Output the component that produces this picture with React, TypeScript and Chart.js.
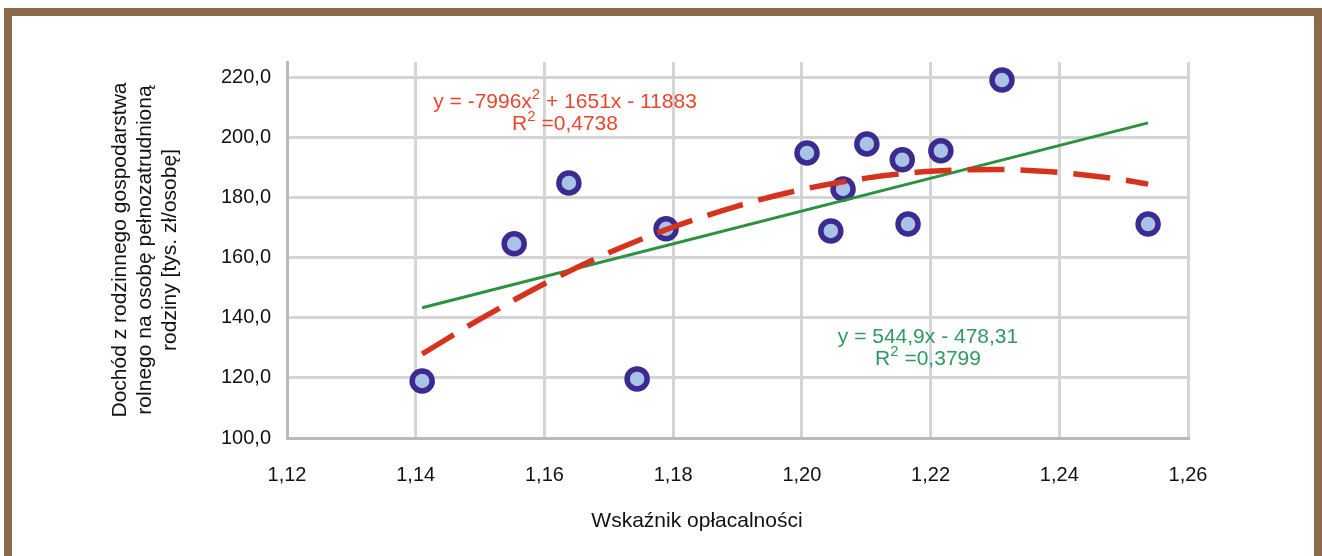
import { useEffect, useRef } from 'react';
import { Chart, registerables } from 'chart.js';

Chart.register(...registerables);

// ---- data ----
const X_VALUES = [1.141, 1.1553, 1.1638, 1.1744, 1.1789, 1.2008, 1.2045, 1.2064, 1.2101, 1.2156, 1.2165, 1.2216, 1.2311, 1.2538];
const Y_VALUES = [119.0, 164.7, 185.0, 119.7, 169.7, 195.0, 169.0, 183.0, 198.0, 192.7, 171.3, 195.7, 219.3, 171.3];

// linear trend line (end points)
const LIN_X = [1.141, 1.2538];
const LIN_Y = [143.4, 205.0];

// polynomial trend curve
const QUAD_X = [1.141, 1.15, 1.16, 1.17, 1.18, 1.19, 1.2, 1.21, 1.22, 1.23, 1.24, 1.25, 1.2538];
const QUAD_Y = [128.0, 139.6, 151.4, 161.7, 170.3, 177.3, 182.8, 186.6, 188.9, 189.5, 188.5, 186.0, 184.6];

const X_MIN = 1.12;
const X_MAX = 1.26;
const X_STEP = 0.02;
const Y_MIN = 100;
const Y_MAX = 225.3;
const Y_STEP = 20;

const Y_TITLE = ['Dochód z rodzinnego gospodarstwa', 'rolnego na osobę pełnozatrudnioną', 'rodziny [tys. zł/osobę]'];
const X_TITLE = 'Wskaźnik opłacalności';

type Part = { t: string; sup?: boolean };
const EQ_POLY_1: Part[] = [{ t: 'y = -7996x' }, { t: '2', sup: true }, { t: ' + 1651x - 11883' }];
const EQ_POLY_2: Part[] = [{ t: 'R' }, { t: '2', sup: true }, { t: ' =0,4738' }];
const EQ_LIN_1: Part[] = [{ t: 'y = 544,9x - 478,31' }];
const EQ_LIN_2: Part[] = [{ t: 'R' }, { t: '2', sup: true }, { t: ' =0,3799' }];

const FONT = '"Liberation Sans", Arial, Helvetica, sans-serif';
const RED_TEXT = '#E8472F';
const GREEN_TEXT = '#2E9A5E';

function drawRich(ctx: CanvasRenderingContext2D, parts: Part[], cx: number, baseY: number, size: number, color: string) {
  const supSize = Math.round(size * 0.7);
  let total = 0;
  const widths = parts.map((p) => {
    ctx.font = `${p.sup ? supSize : size}px ${FONT}`;
    const w = ctx.measureText(p.t).width;
    total += w;
    return w;
  });
  let x = cx - total / 2;
  ctx.fillStyle = color;
  ctx.textAlign = 'left';
  ctx.textBaseline = 'alphabetic';
  parts.forEach((p, i) => {
    ctx.font = `${p.sup ? supSize : size}px ${FONT}`;
    ctx.fillText(p.t, x, p.sup ? baseY - size * 0.42 : baseY);
    x += widths[i];
  });
}

const textPlugin = {
  id: 'textPlugin',
  afterDraw(chart: any) {
    const ctx: CanvasRenderingContext2D = chart.ctx;
    const xs = chart.scales.x;
    const ys = chart.scales.y;
    ctx.save();
    // equations
    const pcx = xs.getPixelForValue(1.1632);
    const pby = ys.getPixelForValue(210.0);
    drawRich(ctx, EQ_POLY_1, pcx, pby, 21, RED_TEXT);
    drawRich(ctx, EQ_POLY_2, pcx, pby + 22, 21, RED_TEXT);
    const lcx = xs.getPixelForValue(1.2196);
    const lby = ys.getPixelForValue(131.7);
    drawRich(ctx, EQ_LIN_1, lcx, lby, 21, GREEN_TEXT);
    drawRich(ctx, EQ_LIN_2, lcx, lby + 22, 21, GREEN_TEXT);

    // x axis title
    ctx.fillStyle = '#111111';
    ctx.font = `21px ${FONT}`;
    ctx.textAlign = 'center';
    ctx.textBaseline = 'middle';
    ctx.fillText(X_TITLE, 697, 521);

    // y axis title (rotated)
    const cy = (chart.chartArea.top + chart.chartArea.bottom) / 2;
    ctx.translate(145, cy);
    ctx.rotate(-Math.PI / 2);
    Y_TITLE.forEach((line, i) => {
      ctx.fillText(line, 0, (i - 1) * 25);
    });
    ctx.restore();
  },
};

export default function App() {
  const canvasRef = useRef<HTMLCanvasElement | null>(null);

  useEffect(() => {
    const canvas = canvasRef.current;
    if (!canvas) return;
    const chart = new Chart(canvas, {
      type: 'scatter',
      data: {
        datasets: [
          {
            label: 'poly',
            data: QUAD_X.map((x, i) => ({ x, y: QUAD_Y[i] })),
            showLine: true,
            borderColor: '#D6331F',
            borderWidth: 5.5,
            borderDash: [37, 16],
            pointRadius: 0,
            tension: 0.4,
            cubicInterpolationMode: 'monotone',
            order: 1,
          },
          {
            label: 'lin',
            data: LIN_X.map((x, i) => ({ x, y: LIN_Y[i] })),
            showLine: true,
            borderColor: '#2C9140',
            borderWidth: 3,
            pointRadius: 0,
            order: 2,
          },
          {
            label: 'points',
            data: X_VALUES.map((x, i) => ({ x, y: Y_VALUES[i] })),
            pointRadius: 10,
            pointHoverRadius: 10,
            borderWidth: 5.5,
            borderColor: '#3B2A8F',
            backgroundColor: '#A8C3E6',
            pointStyle: 'circle',
            order: 3,
          },
        ],
      } as any,
      options: {
        responsive: false,
        devicePixelRatio: 1,
        animation: false,
        events: [],
        layout: { padding: { top: 62, right: 134, left: 0, bottom: 0 } },
        plugins: {
          legend: { display: false },
          tooltip: { enabled: false },
        },
        scales: {
          x: {
            type: 'linear',
            min: X_MIN,
            max: X_MAX,
            afterFit: (s: any) => {
              s.height = 118;
            },
            grid: { color: '#D5D5D5', lineWidth: 3, drawTicks: false },
            border: { color: '#B8BABA', width: 3 },
            ticks: {
              stepSize: X_STEP,
              padding: 25,
              color: '#111111',
              font: { family: FONT, size: 20 },
              callback: (v: any) => Number(v).toFixed(2).replace('.', ','),
            },
          },
          y: {
            type: 'linear',
            min: Y_MIN,
            max: Y_MAX,
            afterFit: (s: any) => {
              s.width = 287;
            },
            grid: { color: '#D5D5D5', lineWidth: 3, drawTicks: false },
            border: { color: '#B8BABA', width: 3 },
            ticks: {
              stepSize: Y_STEP,
              includeBounds: false,
              padding: 16,
              color: '#111111',
              font: { family: FONT, size: 20 },
              callback: (v: any) => Number(v).toFixed(1).replace('.', ','),
            },
          },
        },
      } as any,
      plugins: [textPlugin],
    });
    return () => chart.destroy();
  }, []);

  return (
    <div
      style={{
        position: 'fixed',
        left: 0,
        top: 0,
        width: 1322,
        height: 556,
        overflow: 'hidden',
        background: '#ffffff',
      }}
    >
      <div
        style={{
          position: 'absolute',
          left: 4,
          top: 8,
          width: 1318,
          height: 640,
          boxSizing: 'border-box',
          border: '8px solid #8B6B4A',
          background: '#ffffff',
        }}
      />
      <canvas
        ref={canvasRef}
        width={1322}
        height={556}
        style={{ position: 'absolute', left: 0, top: 0, width: 1322, height: 556 }}
      />
    </div>
  );
}
